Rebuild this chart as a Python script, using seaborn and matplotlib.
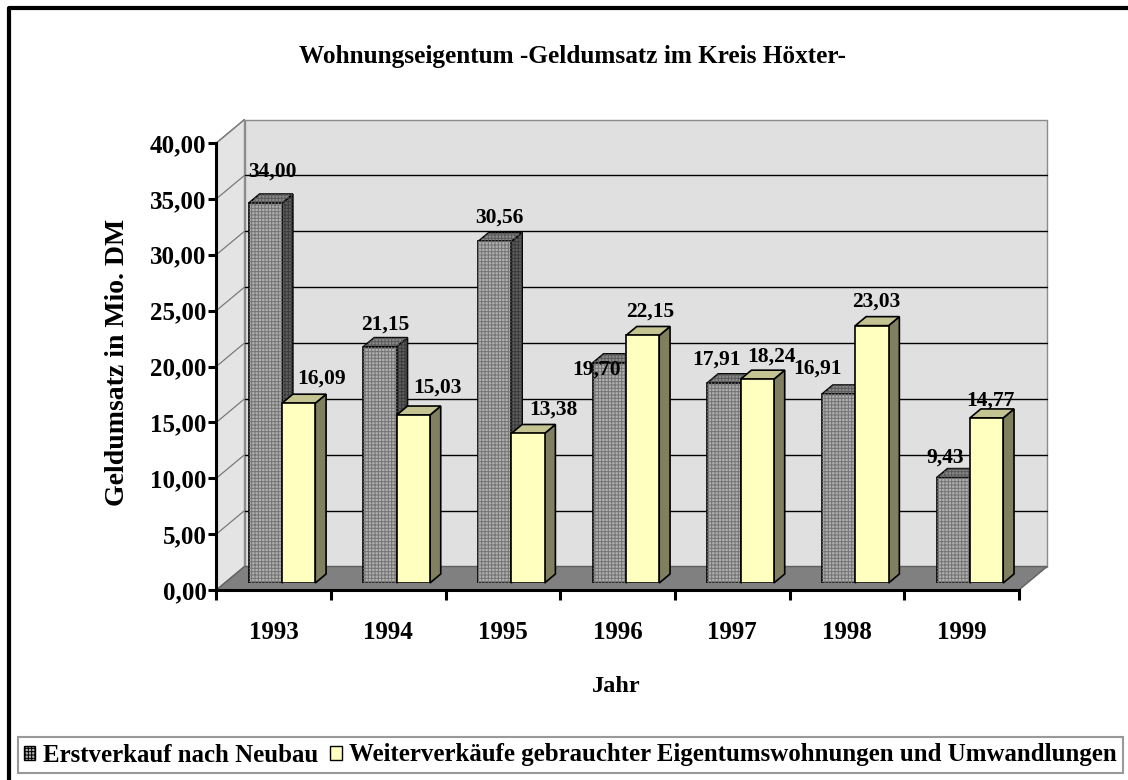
import numpy as np
import pandas as pd
import matplotlib
matplotlib.use("Agg")
import matplotlib.pyplot as plt
from matplotlib.patches import Polygon, Patch
from matplotlib.lines import Line2D
import seaborn as sns

# ---- data -------------------------------------------------------------
years = ["1993", "1994", "1995", "1996", "1997", "1998", "1999"]
erstverkauf = [34.00, 21.15, 30.56, 19.70, 17.91, 16.91, 9.43]
weiterverkauf = [16.09, 15.03, 13.38, 22.15, 18.24, 23.03, 14.77]
series_names = ["Erstverkauf nach Neubau",
                "Weiterverkäufe gebrauchter Eigentumswohnungen und Umwandlungen"]
y_ticks = [0, 5, 10, 15, 20, 25, 30, 35, 40]

df = pd.DataFrame({
    "Jahr": years * 2,
    "Wert": erstverkauf + weiterverkauf,
    "Serie": [series_names[0]] * len(years) + [series_names[1]] * len(years),
})

# ---- style ------------------------------------------------------------
sns.set_theme(style="white")
plt.rcParams["font.family"] = ["Liberation Serif", "DejaVu Serif"]
plt.rcParams["font.weight"] = "bold"
plt.rcParams["hatch.linewidth"] = 0.7
for key in ("text.color", "axes.labelcolor", "xtick.color", "ytick.color"):
    plt.rcParams[key] = "black"

W, H = 1128, 780
fig = plt.figure(figsize=(W / 100, H / 100), dpi=100, facecolor="white")


def box(x0, y0, x1, y1):
    """pixel box (top-left origin) -> figure fraction rect"""
    return [x0 / W, 1 - y1 / H, (x1 - x0) / W, (y1 - y0) / H]


# bar plane axes (the plane the bar fronts live in)
bx0, by0, bx1, by1 = 224.7, 136, 1027.3, 583
ax = fig.add_axes(box(bx0, by0, bx1, by1))
ax.patch.set_alpha(0)

gray_front, gray_top, gray_side = "#b0b0b0", "#8a8a8a", "#5e5e5e"
yel_front, yel_top, yel_side = "#ffffc0", "#c4c492", "#808060"

sns.barplot(data=df, x="Jahr", y="Wert", hue="Serie", order=years,
            hue_order=series_names, palette=[gray_front, yel_front],
            saturation=1, width=0.58, edgecolor="black", linewidth=1.2,
            legend=False, ax=ax)
ax.set_xlim(-0.5, len(years) - 0.5)
ax.set_ylim(0, 40)
ax.axis("off")

# pseudo-3D depth helper: k pixels of depth -> (1.2k, k) pixel shift
px_x = ax.bbox.width / (len(years))
px_y = ax.bbox.height / 40.0


def sh(x, y, k):
    return (x + 1.2 * k / px_x, y + k / px_y)


k_front, k_bar, k_back = -7.0, 9.0, 16.5
xl, xr = -0.5, len(years) - 0.5


def poly(pts, fc, ec, z, lw=1.0, **kw):
    p = Polygon(pts, closed=True, facecolor=fc, edgecolor=ec, lw=lw,
                zorder=z, clip_on=False, **kw)
    ax.add_patch(p)
    return p


# walls and floor
poly([sh(xl, 0, k_back), sh(xr, 0, k_back), sh(xr, 40, k_back), sh(xl, 40, k_back)],
     "#e0e0e0", "#8c8c8c", 0.2)
poly([sh(xl, 0, k_front), sh(xl, 40, k_front), sh(xl, 40, k_back), sh(xl, 0, k_back)],
     "#e4e4e4", "#8c8c8c", 0.2)
poly([sh(xl, 0, k_front), sh(xr, 0, k_front), sh(xr, 0, k_back), sh(xl, 0, k_back)],
     "#808080", "#606060", 0.3)
for v in y_ticks[1:-1]:
    a, b = sh(xl, v, k_back), sh(xr, v, k_back)
    ax.plot([a[0], b[0]], [a[1], b[1]], color="black", lw=1.0, zorder=0.4,
            clip_on=False)
for v in y_ticks[1:]:
    a, b = sh(xl, v, k_front), sh(xl, v, k_back)
    ax.plot([a[0], b[0]], [a[1], b[1]], color="#7a7a7a", lw=0.9, zorder=0.4,
            clip_on=False)

# value-label placement (pixels, relative to the top centre of each bar front)
label_nudge = [
    [(7, 31), (5, 22), (5, 24), (-13, -7), (-8, 23), (-21, 25), (-8, 20)],
    [(23, 25), (24, 27), (25, 24), (8, 24), (14, 23), (4, 24), (4, 17)],
]

# bar sides, tops, stipple and value labels
styles = [(gray_top, gray_side, True), (yel_top, yel_side, False)]
for ci, (container, (ctop, cside, stipple)) in enumerate(zip(ax.containers, styles)):
    zf = 2 + 2 * ci
    for bi, bar in enumerate(container):
        x0 = bar.get_x()
        w = bar.get_width()
        h = bar.get_height()
        x1 = x0 + w
        bar.set_zorder(zf + 1)
        side = [(x1, 0), (x1, h), sh(x1, h, k_bar), sh(x1, 0, k_bar)]
        top = [(x0, h), (x1, h), sh(x1, h, k_bar), sh(x0, h, k_bar)]
        poly(side, cside, "black", zf, lw=1.2)
        poly(top, ctop, "black", zf, lw=1.2)
        if stipple:
            for pts, hc in (([(x0, 0), (x1, 0), (x1, h), (x0, h)], "#747474"),
                            (side, "#3a3a3a"), (top, "#5a5a5a")):
                Pp = Polygon(pts, closed=True, facecolor="none", edgecolor=hc,
                             lw=0, hatch="+++++", zorder=zf + 1.5, clip_on=False)
                ax.add_patch(Pp)
        label = f"{h:.2f}".replace(".", ",")
        ax.annotate(label, (x0 + w / 2, h), xytext=label_nudge[ci][bi],
                    textcoords="offset pixels", ha="center", va="center",
                    fontsize=15.5, fontweight="bold", color="black",
                    zorder=10, annotation_clip=False)

# front axes: ticks, tick labels and the front edge lines
off_x, off_y = 1.2 * k_front, -k_front
axf = fig.add_axes(box(bx0 + off_x, by0 + off_y, bx1 + off_x, by1 + off_y))
axf.patch.set_alpha(0)
axf.set_zorder(ax.get_zorder() + 1)
axf.set_xlim(xl, xr)
axf.set_ylim(0, 40)
for s in ("top", "right"):
    axf.spines[s].set_visible(False)
for s in ("left", "bottom"):
    axf.spines[s].set_linewidth(2.2)
    axf.spines[s].set_color("black")
axf.set_yticks(y_ticks)
axf.set_yticklabels([f"{v:.2f}".replace(".", ",") for v in y_ticks],
                    fontsize=18, fontweight="bold")
axf.set_xticks(np.arange(len(years) + 1) - 0.5)
axf.set_xticklabels([])
axf.set_xticks(np.arange(len(years)), minor=True)
axf.set_xticklabels(years, minor=True, fontsize=18, fontweight="bold")
axf.tick_params(axis="y", which="major", direction="out", length=6, width=2.2,
                pad=1, left=True, colors="black")
axf.tick_params(axis="x", which="major", direction="out", length=7, width=2.2,
                bottom=True, colors="black")
axf.tick_params(axis="x", which="minor", length=0, pad=22, colors="black")

# titles
fig.text(572 / W, 1 - 57 / H, "Wohnungseigentum -Geldumsatz im Kreis Höxter-",
         ha="center", va="center", fontsize=18.2, fontweight="bold")
fig.text(118 / W, 1 - 362 / H, "Geldumsatz in Mio. DM", rotation=90,
         ha="center", va="center", fontsize=20, fontweight="bold")
fig.text(616 / W, 1 - 686 / H, "Jahr", ha="center", va="center",
         fontsize=17.5, fontweight="bold")

# legend
handles = [Patch(facecolor=gray_front, edgecolor="black", hatch="+++++", lw=1),
           Patch(facecolor=yel_front, edgecolor="black", lw=1)]
leg = fig.legend(handles, series_names, loc="center",
                 bbox_to_anchor=(570.5 / W, 1 - 755 / H), ncol=2, fontsize=17.9,
                 frameon=True, fancybox=False, edgecolor="#808080",
                 handlelength=0.45, handleheight=0.5, handletextpad=0.3,
                 columnspacing=0.5, borderpad=0.25, borderaxespad=0)
leg.get_frame().set_linewidth(1.5)
for t in leg.get_texts():
    t.set_fontweight("bold")

# outer frame of the chart
fig.add_artist(Line2D([9 / W, 9 / W, 1.01], [-0.01, 1 - 8 / H, 1 - 8 / H],
                      transform=fig.transFigure, color="black", lw=3,
                      solid_joinstyle="round"))

fig.savefig("out.png", dpi=100, facecolor="white")
